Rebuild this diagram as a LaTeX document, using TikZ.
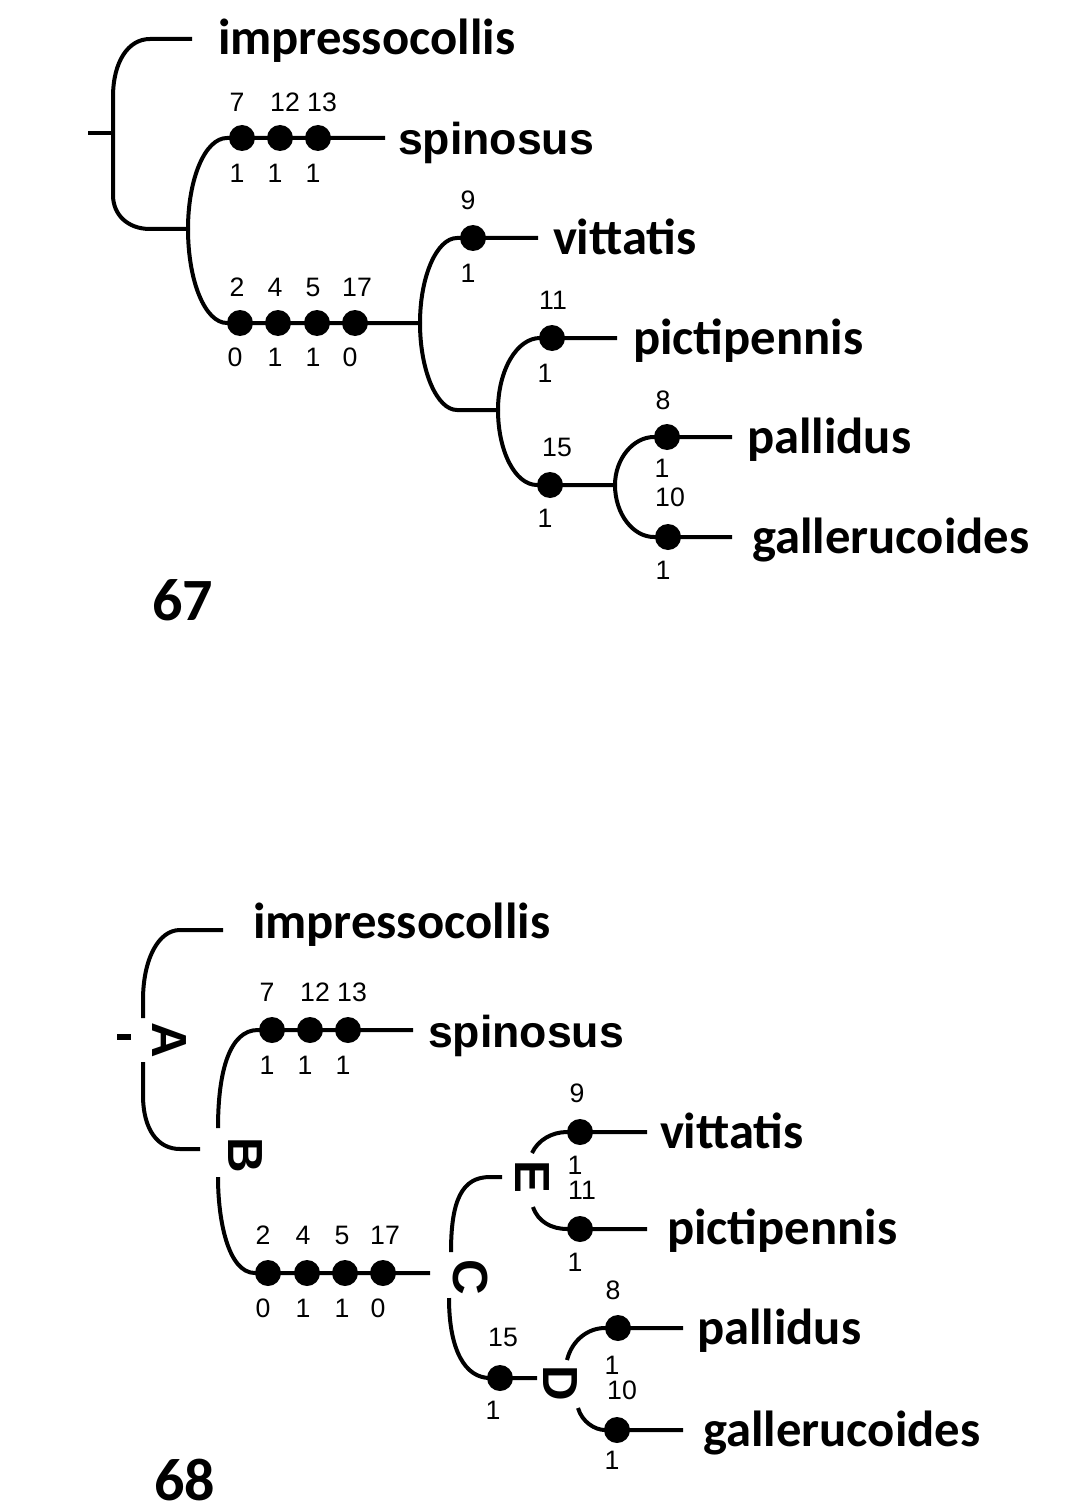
\documentclass[tikz,border=0pt]{standalone}
\usepackage{fontspec}
\setmainfont{Carlito}
\newfontfamily\arialf{Liberation Sans}
\begin{document}
\begin{tikzpicture}[x=0.75pt,y=-0.75pt, line width=3pt,
 dot/.style={circle, fill=black, inner sep=0pt, minimum size=19.5pt},
 taxon/.style={anchor=base west, inner sep=0pt, font=\fontsize{38pt}{40pt}\selectfont\bfseries},
 taxonsans/.style={anchor=base west, inner sep=0pt, font=\arialf\fontsize{33.5pt}{36pt}\selectfont\bfseries},
 num/.style={inner sep=0pt, font=\arialf\fontsize{20pt}{22pt}\selectfont},
 clab/.style={inner sep=0pt, rotate=-90, font=\arialf\bfseries\fontsize{37pt}{40pt}\selectfont},
 fignum/.style={anchor=base west, inner sep=0pt, font=\bfseries\fontsize{45pt}{50pt}\selectfont}]
\path[use as bounding box, fill=white] (0,0) rectangle (1068,1512);

% ================= Figure 67 =================
\node[taxon] (imp1) at (216,55) {impressocollis};
\node[taxonsans] (spi1) at (396,155) {spinosus};
\node[taxon] (vit1) at (551,254) {vittatis};
\node[taxon] (pic1) at (631,354) {pictipennis};
\node[taxon] (pal1) at (745,453) {pallidus};
\node[taxon] (gal1) at (750,553) {gallerucoides};

\node[dot] (s1a) at (242,138) {};
\node[dot] (s1b) at (280,138) {};
\node[dot] (s1c) at (318,138) {};
\node[dot] (l1a) at (240,323) {};
\node[dot] (l1b) at (278,323) {};
\node[dot] (l1c) at (317,323) {};
\node[dot] (l1d) at (355,323) {};
\node[dot] (v1) at (473,238) {};
\node[dot] (p1) at (552,338) {};
\node[dot] (f1) at (550,485) {};
\node[dot] (pa1) at (667,437) {};
\node[dot] (g1) at (668,537) {};

\coordinate (imp1e) at (192,39);
\coordinate (root1) at (113,133);
\coordinate (stub1) at (88,133);
\coordinate (B1) at (188,229);
\coordinate (s1e) at (385,138);
\coordinate (C1) at (420,323);
\coordinate (v1e) at (538,238);
\coordinate (D1) at (498,410);
\coordinate (p1e) at (617,338);
\coordinate (F1) at (615,485);
\coordinate (pa1e) at (732,437);
\coordinate (g1e) at (732,537);

\draw (imp1e) -- (150,39) .. controls (128,39) and (113,62) .. (113,97) -- (113,195) .. controls (113,215) and (128,229) .. (150,229) -- (B1);
\draw (stub1) -- (root1);
\draw (B1) .. controls (188,179) and (205,138) .. (227,138) -- (s1a.center) -- (s1b.center) -- (s1c.center) -- (s1e);
\draw (B1) .. controls (188,281) and (205,323) .. (227,323) -- (l1a.center) -- (l1b.center) -- (l1c.center) -- (l1d.center) -- (C1);
\draw (C1) .. controls (420,276) and (437,238) .. (457,238) -- (v1.center) -- (v1e);
\draw (C1) .. controls (420,371) and (437,410) .. (457,410) -- (D1);
\draw (D1) .. controls (498,370) and (517,338) .. (540,338) -- (p1.center) -- (p1e);
\draw (D1) .. controls (498,451) and (515,485) .. (537,485) -- (f1.center) -- (F1);
\draw (F1) .. controls (615,459) and (633,437) .. (654,437) -- (pa1.center) -- (pa1e);
\draw (F1) .. controls (615,514) and (633,537) .. (654,537) -- (g1.center) -- (g1e);

\foreach \t/\x/\y [count=\i] in {7/237/102, 12/285/102, 13/322/102, 1/237/173, 1/275/173, 1/313/173,
  2/237/287, 4/275/287, 5/313/287, 17/357/287, 0/235/357, 1/275/357, 1/313/357, 0/350/357,
  9/468/200, 1/468/273, 11/553/300, 1/545/373, 15/557/447, 1/545/518,
  8/663/400, 1/662/468, 10/670/497, 1/663/570}
  \node[num] (na\i) at (\x,\y) {\t};

\node[fignum] (fig67) at (150,620) {67};

% ================= Figure 68 =================
\node[taxon] (imp2) at (251,938) {impressocollis};
\node[taxonsans] (spi2) at (426,1047) {spinosus};
\node[taxon] (vit2) at (658,1148) {vittatis};
\node[taxon] (pic2) at (665,1244) {pictipennis};
\node[taxon] (pal2) at (695,1344) {pallidus};
\node[taxon] (gal2) at (701,1446) {gallerucoides};

\node[dot] (s2a) at (272,1030) {};
\node[dot] (s2b) at (310,1030) {};
\node[dot] (s2c) at (348,1030) {};
\node[dot] (l2a) at (268,1273) {};
\node[dot] (l2b) at (307,1273) {};
\node[dot] (l2c) at (345,1273) {};
\node[dot] (l2d) at (383,1273) {};
\node[dot] (v2) at (580,1132) {};
\node[dot] (p2) at (580,1229) {};
\node[dot] (f2) at (500,1378) {};
\node[dot] (pa2) at (618,1328) {};
\node[dot] (g2) at (617,1430) {};

\node[clab] (labA) at (169,1040) {A};
\node[clab] (labB) at (245,1155) {B};
\node[clab] (labC) at (470,1277) {C};
\node[clab] (labD) at (560,1383) {D};
\node[clab] (labE) at (532,1177) {E};

\coordinate (imp2e) at (223,930);
\coordinate (Au) at (143,1018);
\coordinate (Ad) at (143,1062);
\coordinate (stub2a) at (117,1037);
\coordinate (stub2b) at (131,1037);
\coordinate (Bl) at (200,1149);
\coordinate (Bu) at (218,1128);
\coordinate (Bd) at (218,1177);
\coordinate (s2e) at (413,1030);
\coordinate (l2e) at (430,1273);
\coordinate (Cu) at (451,1252);
\coordinate (Cd) at (449,1298);
\coordinate (Cr) at (502,1177);
\coordinate (Dl) at (537,1378);
\coordinate (Eu) at (532,1153);
\coordinate (Ed) at (533,1207);
\coordinate (v2e) at (647,1132);
\coordinate (p2e) at (647,1229);
\coordinate (Du) at (567,1360);
\coordinate (Dd) at (578,1408);
\coordinate (pa2e) at (683,1328);
\coordinate (g2e) at (683,1430);

\draw (imp2e) -- (180,930) .. controls (158,930) and (143,960) .. (143,1000) -- (Au);
\draw (Ad) -- (143,1095) .. controls (143,1130) and (158,1149) .. (180,1149) -- (Bl);
\draw[line width=4pt] (stub2a) -- (stub2b);
\draw (Bu) .. controls (218,1070) and (230,1030) .. (258,1030) -- (s2a.center) -- (s2b.center) -- (s2c.center) -- (s2e);
\draw (Bd) .. controls (218,1220) and (228,1273) .. (255,1273) -- (l2a.center) -- (l2b.center) -- (l2c.center) -- (l2d.center) -- (l2e);
\draw (Cu) .. controls (451,1200) and (462,1177) .. (490,1177) -- (Cr);
\draw (Cd) .. controls (449,1350) and (465,1378) .. (490,1378) -- (f2.center) -- (Dl);
\draw (Eu) .. controls (538,1140) and (552,1132) .. (567,1132) -- (v2.center) -- (v2e);
\draw (Ed) .. controls (538,1222) and (552,1229) .. (567,1229) -- (p2.center) -- (p2e);
\draw (Du) .. controls (572,1340) and (588,1328) .. (605,1328) -- (pa2.center) -- (pa2e);
\draw (Dd) .. controls (582,1422) and (595,1430) .. (605,1430) -- (g2.center) -- (g2e);

\foreach \t/\x/\y [count=\i] in {7/267/992, 12/315/992, 13/352/992, 1/267/1065, 1/305/1065, 1/343/1065,
  2/263/1235, 4/303/1235, 5/342/1235, 17/385/1235, 0/263/1308, 1/303/1308, 1/342/1308, 0/378/1308,
  9/577/1093, 1/575/1165, 11/582/1190, 1/575/1262, 15/503/1337, 1/493/1410,
  8/613/1290, 1/612/1365, 10/622/1390, 1/612/1460}
  \node[num] (nb\i) at (\x,\y) {\t};

\node[fignum] (fig68) at (152,1500) {68};
\end{tikzpicture}
\end{document}
